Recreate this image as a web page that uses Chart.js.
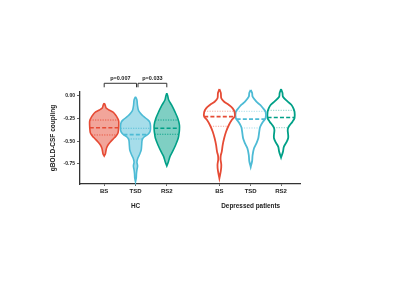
<!DOCTYPE html>
<html><head><meta charset="utf-8">
<script src="https://cdn.jsdelivr.net/npm/chart.js@4.4.1/dist/chart.umd.min.js"></script>
<style>html,body{margin:0;padding:0;background:#fff;}#wrap{width:400px;height:284px;}</style>
</head><body><div id="wrap"><canvas id="c" width="400" height="284"></canvas></div>
<script>
// ---------- data ----------
const categories = ['BS', 'TSD', 'RS2'];
const groups = ['HC', 'Depressed patients'];
const hcPositions = [1, 2, 3];
const depPositions = [4.68, 5.68, 6.65];
const groupPositions = [2, 5.68];
const yTicks = [0, -0.25, -0.5, -0.75];

// violin density profiles (value grid, relative half-width)
const hcBS_y  = [-0.08,-0.099,-0.132,-0.154,-0.176,-0.21,-0.243,-0.276,-0.331,-0.375,-0.408,-0.441,-0.474,-0.507,-0.54,-0.574,-0.607,-0.64,-0.662];
const hcBS_d  = [0,1,2,5,9,12,14,15.3,15.3,15,14.5,12.5,9.5,6.5,4,2.5,1.8,1.2,0];
const hcTSD_y = [-0.008,-0.044,-0.099,-0.154,-0.187,-0.221,-0.254,-0.287,-0.331,-0.386,-0.419,-0.452,-0.485,-0.54,-0.596,-0.64,-0.684,-0.728,-0.772,-0.816,-0.86,-0.904,-0.945];
const hcTSD_d = [0,1.5,2,3,5,8,12,15,15.8,15.5,13.5,9,7,6.5,6,4.5,2.5,1.5,2.2,1.5,1,0.8,0];
const hcRS2_y = [0.03,0,-0.044,-0.099,-0.173,-0.246,-0.32,-0.375,-0.419,-0.467,-0.54,-0.614,-0.669,-0.725,-0.772];
const hcRS2_d = [0,1,2,5,8.5,11.5,13.3,13.3,12.8,12,9.3,6,3.3,1.7,0];
const depBS_y  = [0.077,0.033,-0.025,-0.063,-0.099,-0.136,-0.176,-0.228,-0.265,-0.32,-0.394,-0.467,-0.54,-0.614,-0.653,-0.697,-0.761,-0.827,-0.908];
const depBS_d  = [0,1.5,2,5,10,14,16,16,13,10,7,5,3.5,2.5,1.5,1.2,2,1.5,0];
const depTSD_y = [0.066,0.033,-0.008,-0.063,-0.099,-0.136,-0.176,-0.243,-0.283,-0.339,-0.394,-0.467,-0.522,-0.577,-0.651,-0.717,-0.783];
const depTSD_d = [0,1.5,2,6,10,13,15.7,15.7,13,10,9,8,6,3.5,2,1.5,0];
const depRS2_y = [0.077,0.033,-0.008,-0.063,-0.099,-0.136,-0.176,-0.243,-0.283,-0.339,-0.375,-0.43,-0.463,-0.504,-0.559,-0.614,-0.679];
const depRS2_d = [0,1.5,2,7,11,13,14.2,14.2,12,8,7,7.5,7.5,6,3,2,0];

// quartiles and medians
const hcQ3     = [-0.265, -0.356, -0.265];
const hcMedian = [-0.35, -0.425, -0.356];
const hcQ1     = [-0.43, -0.474, -0.422];
const depQ3     = [-0.168, -0.169, -0.158];
const depMedian = [-0.228, -0.256, -0.237];
const depQ1     = [-0.334, -0.353, -0.35];

// significance comparisons (HC group)
const compFrom = [0, 1];
const compTo = [1, 2];
const compLabels = ['p=0.007', 'p=0.033'];

// ---------- styles ----------
const colors = ['#E64B35', '#4DBBD5', '#00A087'];
const fills = ['rgba(230,75,53,0.5)', 'rgba(77,187,213,0.5)', 'rgba(0,160,135,0.5)'];
const FONT = "'Liberation Sans', Arial, Helvetica, sans-serif";
const WIDTH_SCALE = 0.95 / 31.3;
const X_MIN = 0.227, X_MAX = 7.255;
const Y_MIN = -0.9706, Y_MAX = 0.044;
const BRACKET_LEVEL = 0.14, BRACKET_DROP = 0.044;

Chart.defaults.font.family = FONT;

function widthAt(ys, ds, v) {
  for (let i = 0; i < ys.length - 1; i++) {
    const a = ys[i], b = ys[i + 1];
    if ((v <= a && v >= b) || (v >= a && v <= b)) {
      const t = (v - a) / (b - a);
      return ds[i] + t * (ds[i + 1] - ds[i]);
    }
  }
  return 0;
}

const groupDefs = [
  { pos: hcPositions, profiles: [[hcBS_y, hcBS_d], [hcTSD_y, hcTSD_d], [hcRS2_y, hcRS2_d]], q1: hcQ1, med: hcMedian, q3: hcQ3, filled: true },
  { pos: depPositions, profiles: [[depBS_y, depBS_d], [depTSD_y, depTSD_d], [depRS2_y, depRS2_d]], q1: depQ1, med: depMedian, q3: depQ3, filled: false }
];

const datasets = [];
groupDefs.forEach(g => {
  g.profiles.forEach(([ys, ds], i) => {
    const c = g.pos[i];
    const right = ys.map((y, k) => ({ x: c + ds[k] * WIDTH_SCALE, y }));
    const left = ys.map((y, k) => ({ x: c - ds[k] * WIDTH_SCALE, y })).reverse();
    datasets.push({
      data: right.concat(left),
      showLine: true,
      borderColor: colors[i],
      backgroundColor: g.filled ? fills[i] : 'rgba(0,0,0,0)',
      fill: g.filled ? 'shape' : false,
      borderWidth: g.filled ? 1.6 : 1.8,
      tension: 0.3,
      pointRadius: 0,
      clip: false,
      order: 2
    });
    const lines = [
      { v: g.q3[i], dash: [1.2, 1.3], w: 0.9, alpha: g.filled ? 1 : 0.55 },
      { v: g.med[i], dash: [4, 2.2], w: 1.7, alpha: 1 },
      { v: g.q1[i], dash: [1.2, 1.3], w: 0.9, alpha: g.filled ? 1 : 0.55 }
    ];
    lines.forEach(L => {
      const hw = widthAt(ys, ds, L.v) * WIDTH_SCALE;
      datasets.push({
        data: [{ x: c - hw, y: L.v }, { x: c + hw, y: L.v }],
        showLine: true,
        borderColor: colors[i] + (L.alpha < 1 ? '8C' : ''),
        borderWidth: L.w,
        borderDash: L.dash,
        fill: false,
        pointRadius: 0,
        tension: 0,
        clip: false,
        order: 1
      });
    });
  });
});

const tickPositions = hcPositions.concat(depPositions);
const tickLabels = categories.concat(categories);

const bracketPlugin = {
  id: 'brackets',
  afterDraw(chart) {
    const ctx = chart.ctx, xs = chart.scales.x, ys = chart.scales.y;
    const yLine = ys.getPixelForValue(BRACKET_LEVEL);
    const yEnd = ys.getPixelForValue(BRACKET_LEVEL - BRACKET_DROP);
    ctx.save();
    ctx.strokeStyle = '#333';
    ctx.lineWidth = 1;
    ctx.fillStyle = '#222';
    ctx.font = 'bold 5.5px ' + FONT;
    ctx.textAlign = 'center';
    ctx.textBaseline = 'middle';
    compFrom.forEach((a, i) => {
      const x1 = xs.getPixelForValue(hcPositions[a]) + (i > 0 ? 2.5 : 0);
      const x2 = xs.getPixelForValue(hcPositions[compTo[i]]) + (i === 0 ? 1 : 0);
      ctx.beginPath();
      ctx.moveTo(x1, yEnd); ctx.lineTo(x1, yLine); ctx.lineTo(x2, yLine); ctx.lineTo(x2, yEnd);
      ctx.stroke();
      ctx.fillText(compLabels[i], (x1 + x2) / 2, yLine - 4.5);
    });
    ctx.restore();
  }
};

new Chart(document.getElementById('c'), {
  type: 'scatter',
  data: { datasets },
  options: {
    responsive: false,
    animation: false,
    devicePixelRatio: 1,
    layout: { padding: { left: 45, right: 100, top: 92, bottom: 66 } },
    plugins: { legend: { display: false }, tooltip: { enabled: false } },
    elements: { point: { radius: 0, hoverRadius: 0 }, line: { capBezierPoints: false } },
    events: [],
    scales: {
      x: {
        type: 'linear', position: 'bottom', weight: 0, min: X_MIN, max: X_MAX,
        grid: { display: true, drawOnChartArea: false, drawTicks: true, tickLength: 2, color: '#666', lineWidth: 1 },
        border: { display: true, color: '#333', width: 1.3 },
        afterBuildTicks: s => { s.ticks = tickPositions.map(v => ({ value: v })); },
        ticks: { callback: (v, i) => tickLabels[i], font: { size: 6, weight: 'bold' }, color: '#222', padding: 2, autoSkip: false, maxRotation: 0 },
        afterFit: s => { s.height = 14; }
      },
      x2: {
        type: 'linear', position: 'bottom', weight: 1, min: X_MIN, max: X_MAX,
        grid: { display: false, drawTicks: false }, border: { display: false },
        afterBuildTicks: s => { s.ticks = groupPositions.map(v => ({ value: v })); },
        ticks: { callback: (v, i) => groups[i], font: { size: 6.4, weight: 'bold' }, color: '#222', padding: 4, autoSkip: false, maxRotation: 0 },
        afterFit: s => { s.height = 20; }
      },
      y: {
        type: 'linear', position: 'left', min: Y_MIN, max: Y_MAX,
        grid: { display: true, drawOnChartArea: false, drawTicks: true, tickLength: 3, color: '#666', lineWidth: 1 },
        border: { display: true, color: '#333', width: 1.3 },
        afterBuildTicks: s => { s.ticks = yTicks.map(v => ({ value: v })); },
        ticks: { callback: v => v.toFixed(2), font: { size: 5, weight: 'bold' }, color: '#222', padding: 2 },
        title: { display: true, text: 'gBOLD-CSF coupling', font: { size: 6.5, weight: 'bold' }, color: '#222', padding: { top: 4, bottom: 0 } },
        afterFit: s => { s.width = 35; }
      }
    }
  },
  plugins: [bracketPlugin]
});
</script>
</body></html>
